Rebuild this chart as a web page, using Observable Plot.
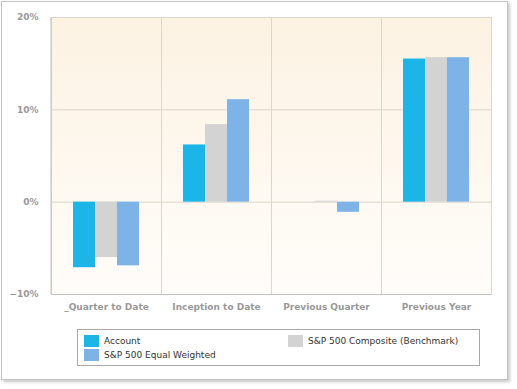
<!DOCTYPE html>
<html><head><meta charset="utf-8">
<script src="https://cdn.jsdelivr.net/npm/d3@7"></script>
<script src="https://cdn.jsdelivr.net/npm/@observablehq/plot@0.6"></script>
<style>
body{margin:0;background:#fff;}
#wrap{position:relative;width:517px;height:389px;overflow:hidden;}
#box{position:absolute;left:1px;top:1px;width:505px;height:377px;border:1px solid #c4c4c4;box-shadow:2px 2px 3px rgba(0,0,0,0.22);background:#fff;}
#chart{position:absolute;left:0;top:0;}
#legend{position:absolute;left:77px;top:329px;width:401px;height:35px;border:1px solid #a8a8a8;background:#fff;font-family:"DejaVu Sans";font-size:9px;color:#333;}
.item{position:absolute;display:flex;align-items:center;white-space:nowrap;}
.sw{width:15px;height:12px;margin-right:5px;}
</style></head>
<body>
<div id="wrap"><div id="box"></div><div id="chart"></div><div id="legend"></div></div>
<script>
const categories = ["_Quarter to Date","Inception to Date","Previous Quarter","Previous Year"];
const seriesNames = ["Account","S&P 500 Composite (Benchmark)","S&P 500 Equal Weighted"];
const accountValues = [-7.1, 6.2, 0, 15.5];
const benchmarkValues = [-6.0, 8.4, 0.1, 15.65];
const equalValues = [-6.9, 11.1, -1.1, 15.65];
const yTicks = [-10, 0, 10, 20];
const colors = ["#1cb5e8", "#d3d3d3", "#7eb3e8"];

const seriesValues = [accountValues, benchmarkValues, equalValues];
const rows = [];
categories.forEach((c, i) => seriesNames.forEach((s, j) => rows.push({category: c, series: s, value: seriesValues[j][i]})));

const fmt = d => (d < 0 ? "\u2212" : "") + Math.abs(d) + "%";

const plot = Plot.plot({
  width: 517, height: 320,
  marginLeft: 51, marginRight: 26, marginTop: 17, marginBottom: 26,
  style: {background: "transparent", fontFamily: "DejaVu Sans", overflow: "visible"},
  fx: {domain: categories, padding: 0, label: null},
  x: {domain: seriesNames, paddingInner: 0, paddingOuter: 1, axis: null},
  y: {domain: [-10, 20], label: null},
  color: {domain: seriesNames, range: colors},
  marks: [
    Plot.frame({fill: "url(#bgGrad)", stroke: "#ddd6cc"}),
    Plot.gridY([0, 10], {stroke: "#ddd5ca", strokeOpacity: 1}),
    Plot.barY(rows, {fx: "category", x: "series", y: "value", fill: "series"}),
    Plot.ruleY([-10], {stroke: "#c2c2c2"}),
    Plot.axisY(yTicks, {tickSize: 0, tickPadding: 13, tickFormat: fmt, fontWeight: "bold", fill: "#999", fontSize: 9, label: null}),
    Plot.axisFx({anchor: "bottom", tickSize: 0, tickPadding: 9, fontWeight: "bold", fill: "#999", fontSize: 9, label: null})
  ]
});

const svg = d3.select(plot);
const defs = svg.insert("defs", ":first-child");
const g = defs.append("linearGradient").attr("id", "bgGrad").attr("x1", 0).attr("y1", 0).attr("x2", 0).attr("y2", 1);
g.append("stop").attr("offset", "0%").attr("stop-color", "#fcf2e2");
g.append("stop").attr("offset", "100%").attr("stop-color", "#fffdfa");

const fxS = plot.scale("fx"), yS = plot.scale("y");
const x0 = fxS.apply(categories[0]);
svg.append("line").attr("x1", x0).attr("x2", x0).attr("y1", yS.apply(20)).attr("y2", yS.apply(-10)).attr("stroke", "#c2c2c2");

document.getElementById("chart").appendChild(plot);

const legend = document.getElementById("legend");
const pos = [[6, 5], [210, 5], [6, 19]];
seriesNames.forEach((s, j) => {
  const it = document.createElement("div");
  it.className = "item";
  it.style.left = pos[j][0] + "px";
  it.style.top = pos[j][1] + "px";
  it.innerHTML = `<div class="sw" style="background:${colors[j]}"></div><span>${s.replace("&", "&amp;")}</span>`;
  legend.appendChild(it);
});
</script>
</body></html>
